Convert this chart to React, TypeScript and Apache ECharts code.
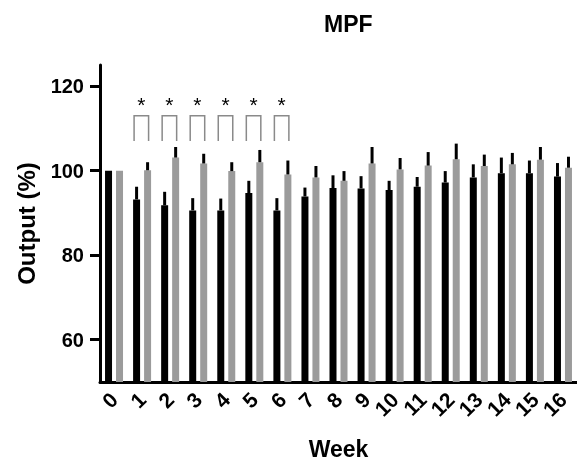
import React, { useEffect, useRef } from "react";
import * as echarts from "echarts";

const weeks = ["0", "1", "2", "3", "4", "5", "6", "7", "8", "9", "10", "11", "12", "13", "14", "15", "16"];
const blackValues = [100, 93.2, 91.8, 90.6, 90.6, 94.7, 90.6, 93.9, 95.9, 95.8, 95.4, 96.2, 97.2, 98.4, 99.4, 99.4, 98.6];
const blackErr = [0, 3.0, 3.2, 2.9, 2.8, 2.9, 2.9, 2.1, 3.0, 2.9, 2.2, 2.3, 2.7, 3.1, 3.7, 3.0, 3.2];
const greyValues = [100, 100.1, 103.1, 101.7, 99.9, 102, 99.1, 98.4, 97.6, 101.7, 100.3, 101.2, 102.7, 101.1, 101.5, 102.6, 100.7];
const greyErr = [0, 1.9, 2.5, 2.3, 2.1, 2.9, 3.3, 2.7, 2.3, 3.9, 2.7, 3.2, 3.7, 2.7, 2.7, 3.0, 2.6];
const sigWeeks = [1, 2, 3, 4, 5, 6];
const bracketBottom = 107;
const bracketTop = 113;
const starLevel = 116.4;
const yTicks = [60, 80, 100, 120];

const FONT = "Liberation Sans, Arial, Helvetica, sans-serif";
const BAR_W = 7;
const OFFSET = 5.5;

export default function App() {
  const ref = useRef<HTMLDivElement>(null);
  useEffect(() => {
    if (!ref.current) return;
    const chart = echarts.init(ref.current, undefined, { renderer: "svg" });

    const errRender = (offset: number) => (params: any, api: any) => {
      const i = api.value(0);
      const v = api.value(1);
      const e = api.value(2);
      if (!e) return null;
      const base = api.coord([i, v]);
      const top = api.coord([i, v + e]);
      return {
        type: "rect",
        shape: { x: base[0] + offset - 1.5, y: top[1], width: 3, height: base[1] - top[1] },
        style: { fill: "#000" },
      };
    };

    chart.setOption({
      animation: false,
      title: {
        text: "MPF",
        left: 319,
        top: 7,
        textStyle: { fontFamily: FONT, fontWeight: "bold", fontSize: 23, color: "#000" },
      },
      grid: { left: 100, right: 0, top: 65, bottom: 80 },
      xAxis: {
        type: "category",
        data: weeks,
        name: "Week",
        nameLocation: "middle",
        nameGap: 55,
        nameTextStyle: { fontFamily: FONT, fontWeight: "bold", fontSize: 23, color: "#000" },
        axisLine: { lineStyle: { color: "#000", width: 3 } },
        axisTick: { alignWithLabel: true, length: 9, lineStyle: { color: "#000", width: 3 } },
        axisLabel: { interval: 0, rotate: 45, margin: 14, fontFamily: FONT, fontWeight: "bold", fontSize: 21, color: "#000" },
      },
      yAxis: {
        type: "value",
        min: 50,
        max: 125,
        name: "Output (%)",
        nameLocation: "middle",
        nameGap: 62,
        nameTextStyle: { fontFamily: FONT, fontWeight: "bold", fontSize: 24, color: "#000" },
        splitLine: { show: false },
        axisLine: { show: true, lineStyle: { color: "#000", width: 3 } },
        axisTick: { show: true, length: 10, customValues: yTicks, lineStyle: { color: "#000", width: 3 } },
        axisLabel: { customValues: yTicks, margin: 16, fontFamily: FONT, fontWeight: "bold", fontSize: 20, color: "#000" },
      },
      series: [
        {
          type: "bar",
          data: blackValues,
          barWidth: BAR_W,
          barGap: "57%",
          itemStyle: { color: "#000" },
        },
        {
          type: "bar",
          data: greyValues,
          barWidth: BAR_W,
          itemStyle: { color: "#9b9b9b" },
        },
        {
          type: "custom",
          renderItem: errRender(-OFFSET),
          data: blackValues.map((v, i) => [i, v, blackErr[i]]),
          z: 5,
        },
        {
          type: "custom",
          renderItem: errRender(OFFSET),
          data: greyValues.map((v, i) => [i, v, greyErr[i]]),
          z: 5,
        },
        {
          type: "custom",
          renderItem: (params: any, api: any) => {
            const i = api.value(0);
            const b = api.coord([i, bracketBottom]);
            const t = api.coord([i, bracketTop]);
            const s = api.coord([i, starLevel]);
            const l = b[0] - 8;
            const r = b[0] + 6.5;
            return {
              type: "group",
              children: [
                {
                  type: "polyline",
                  shape: { points: [[l, b[1]], [l, t[1]], [r, t[1]], [r, b[1]]] },
                  style: { stroke: "#8a8a8a", lineWidth: 1.5, fill: null },
                },
                {
                  type: "text",
                  x: (l + r) / 2,
                  y: s[1] + 3,
                  style: { text: "*", fontFamily: FONT, fontSize: 21, fill: "#000", align: "center", verticalAlign: "middle" },
                },
              ],
            };
          },
          data: sigWeeks.map((w) => [w]),
          z: 5,
        },
      ],
    });
    return () => chart.dispose();
  }, []);
  return <div ref={ref} style={{ position: "fixed", left: 0, top: 0, width: 577, height: 465 }} />;
}
